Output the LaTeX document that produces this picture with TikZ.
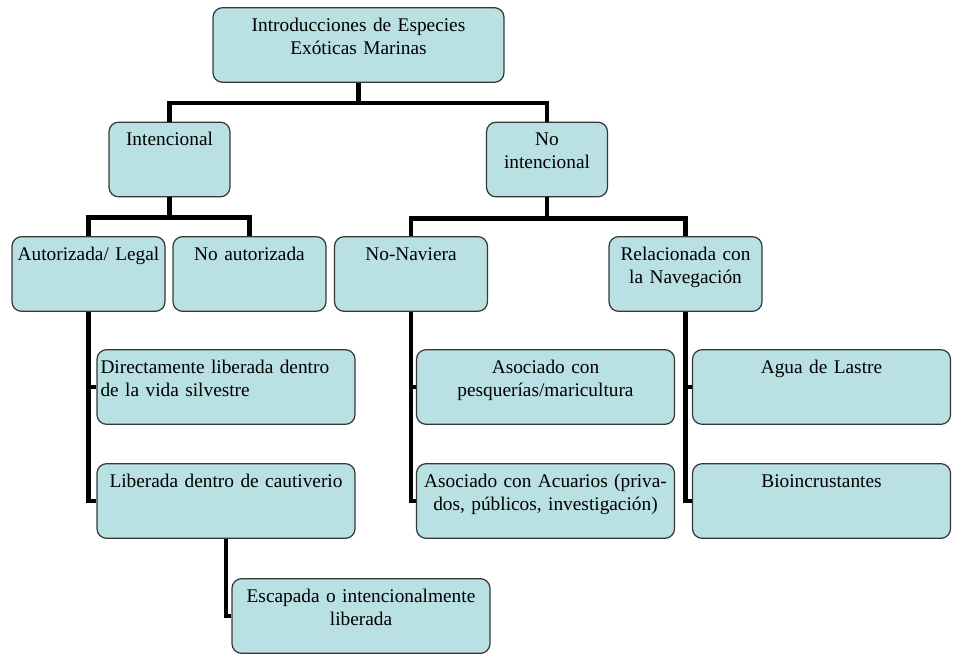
\documentclass[tikz,border=0pt]{standalone}
\usepackage{fontspec}
\setmainfont{Liberation Serif}
\usetikzlibrary{positioning}

\definecolor{celeste}{RGB}{185,224,227}
\definecolor{borde}{RGB}{55,55,55}

\begin{document}
\begin{tikzpicture}[%
    node distance=2.28cm,
    on grid,
    caja/.style={draw=borde, fill=celeste, line width=0.7pt, rounded corners=5.5pt,
        inner xsep=0pt, inner ysep=3pt, text height=10.5pt, text depth=26pt,
        align=center, font=\fontsize{11}{13}\selectfont},
    chica/.style={caja, text width=2.42cm},
    media/.style={caja, text width=3.06cm},
    grande/.style={caja, text width=5.16cm},
    conector/.style={line width=2.6pt}
    ]

    \useasboundingbox (0,0) rectangle (19.4,-13.12);

    \node[caja, text width=5.82cm] (intro) at (7.17,-0.9) {Introducciones de Especies\\ Exóticas Marinas};
    \node[chica] (inten) [below left=2.29cm and 3.78cm of intro] {Intencional};
    \node[chica] (nointen) [right=7.55cm of inten] {No\\ intencional};
    \node[media] (autoriz) [below left=2.29cm and 1.62cm of inten] {Autorizada/ Legal};
    \node[media] (noautoriz) [right=3.22cm of autoriz] {No autorizada};
    \node[media] (nonav) [right=3.23cm of noautoriz] {No-Naviera};
    \node[media] (relac) [right=5.49cm of nonav] {Relacionada con\\ la Navegación};
    \node[grande, align=left] (directa) [below right=2.26cm and 2.75cm of autoriz] {\hspace{2pt}Directamente liberada dentro\\ \hspace{2pt}de la vida silvestre};
    \node[grande] (cautiv) [below=of directa] {Liberada dentro de cautiverio};
    \node[grande] (escap) [below right=2.30cm and 2.70cm of cautiv] {Escapada o intencionalmente\\ liberada};
    \node[grande] (pesq) [below right=2.26cm and 2.69cm of nonav] {Asociado con\\ pesquerías/maricultura};
    \node[grande] (acuar) [below=of pesq] {Asociado con Acuarios (priva-\\ dos, públicos, investigación)};
    \node[grande] (lastre) [right=5.52cm of pesq] {Agua de Lastre};
    \node[grande] (bioinc) [below=of lastre] {Bioincrustantes};

    \draw[conector] (intro.south) -- ++(0,-0.4) -| (inten.north);
    \draw[conector] (intro.south) -- ++(0,-0.4) -| (nointen.north);
    \draw[conector] (inten.south) -- ++(0,-0.4) -| (autoriz.north);
    \draw[conector] (inten.south) -- ++(0,-0.4) -| (noautoriz.north);
    \draw[conector] (nointen.south) -- ++(0,-0.42) -| (nonav.north);
    \draw[conector] (nointen.south) -- ++(0,-0.42) -| (relac.north);

    \draw[conector] (autoriz.south) |- (directa.west);
    \draw[conector] (autoriz.south) |- (cautiv.west);
    \draw[conector] (cautiv.south) |- (escap.west);
    \draw[conector] (nonav.south) |- (pesq.west);
    \draw[conector] (nonav.south) |- (acuar.west);
    \draw[conector] (relac.south) |- (lastre.west);
    \draw[conector] (relac.south) |- (bioinc.west);

\end{tikzpicture}
\end{document}
